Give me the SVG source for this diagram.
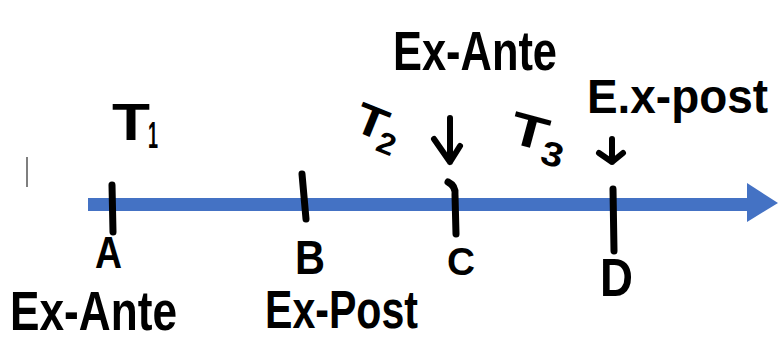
<svg xmlns="http://www.w3.org/2000/svg" width="778" height="341" viewBox="0 0 778 341">
<style>
.t{font-family:"Liberation Sans",Arial,sans-serif;font-weight:bold;fill:#000}
.tick{stroke:#000;stroke-width:7;stroke-linecap:round;fill:none}
.arr{stroke:#000;stroke-width:6;stroke-linecap:round;stroke-linejoin:round;fill:none}
</style>
<rect width="778" height="341" fill="#fff"/>
<g id="connectors">
<line x1="88" y1="204.5" x2="750" y2="204.5" stroke="#4472c4" stroke-width="13"/>
<polygon points="747,183 778,203 747,222" fill="#4472c4"/>
<line x1="27" y1="157" x2="27" y2="187" stroke="#555" stroke-width="1.5"/>
<path class="arr" d="M450,118 L450,162 M434,139 L450,162 L460,146"/>
<path class="arr" d="M612,139 L612,162 M599,153 L612,162 L623,153"/>
</g>
<g id="node-A">
<line class="tick" x1="112" y1="185" x2="113" y2="232"/>
<text class="t" x="95" y="268" font-size="44" textLength="27" lengthAdjust="spacingAndGlyphs">A</text>
<text class="t" x="10" y="330" font-size="56" textLength="167" lengthAdjust="spacingAndGlyphs">Ex-Ante</text>
</g>
<g id="node-B">
<line class="tick" x1="302" y1="174" x2="306" y2="219"/>
<text class="t" x="295" y="274" font-size="48" textLength="30" lengthAdjust="spacingAndGlyphs">B</text>
<text class="t" x="265" y="328" font-size="54" textLength="153" lengthAdjust="spacingAndGlyphs">Ex-Post</text>
</g>
<g id="node-C">
<path class="tick" d="M448,182 Q456,186 455,195 L456,234"/>
<text class="t" x="447" y="275" font-size="38" textLength="28" lengthAdjust="spacingAndGlyphs">C</text>
<text class="t" x="393" y="70" font-size="56" textLength="164" lengthAdjust="spacingAndGlyphs">Ex-Ante</text>
</g>
<g id="node-D">
<line class="tick" x1="613" y1="189" x2="614" y2="251"/>
<text class="t" x="600" y="296" font-size="54" textLength="33" lengthAdjust="spacingAndGlyphs">D</text>
<text class="t" x="587" y="113" font-size="48" textLength="181" lengthAdjust="spacingAndGlyphs">E.x-post</text>
</g>
<g id="label-T1">
<text class="t" x="112" y="140" font-size="52" textLength="38" lengthAdjust="spacingAndGlyphs">T</text>
<text class="t" x="148" y="148" font-size="36" textLength="10" lengthAdjust="spacingAndGlyphs">1</text>
</g>
<g id="label-T2" transform="rotate(22 380 125)">
<text class="t" x="355" y="140" font-size="44" textLength="32" lengthAdjust="spacingAndGlyphs">T</text>
<text class="t" x="384" y="150" font-size="30" textLength="18" lengthAdjust="spacingAndGlyphs">2</text>
</g>
<g id="label-T3" transform="rotate(15 540 135)">
<text class="t" x="510" y="150" font-size="46" textLength="38" lengthAdjust="spacingAndGlyphs">T</text>
<text class="t" x="546" y="162" font-size="34" textLength="22" lengthAdjust="spacingAndGlyphs">3</text>
</g>
</svg>
